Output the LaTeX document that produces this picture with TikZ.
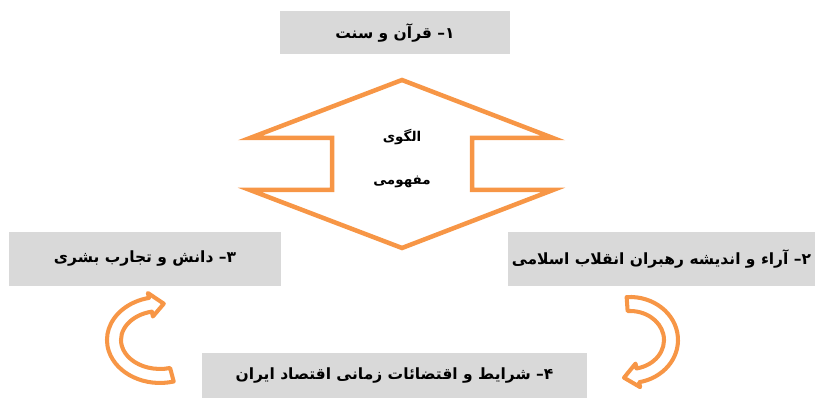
\documentclass[tikz,border=0pt]{standalone}
\usepackage{fontspec}
\newfontfamily\persianfont[Script=Arabic]{DejaVu Sans}
\TeXXeTstate=1
\newlength{\du}
\setlength{\du}{15\unitlength}
\definecolor{boxgray}{rgb}{0.850980, 0.850980, 0.850980}
\definecolor{dialinecolor}{rgb}{0.968627, 0.588235, 0.274510}
\tikzset{
  graybox/.style={fill=boxgray, draw=none, inner sep=0pt,
    font=\persianfont\bfseries\fontsize{15.5}{18}\selectfont},
  centerlabel/.style={inner sep=0pt,
    font=\persianfont\bfseries\fontsize{13.5}{16}\selectfont}
}
\begin{document}
\begin{tikzpicture}
\pgftransformxscale{1.000000}
\pgftransformyscale{-1.000000}
\useasboundingbox (0.000000\du,0.000000\du) rectangle (54.333333\du,26.533333\du);
% gray boxes
\node[graybox, minimum width=15.333333\du, minimum height=2.866667\du] (quran) at (26.333333\du,2.166667\du){\beginR ۱– قرآن و سنت\endR};
\node[graybox, minimum width=18.133333\du, minimum height=3.600000\du] (danesh) at (9.666667\du,17.266667\du){\beginR ۳– دانش و تجارب بشری\endR};
\node[graybox, minimum width=20.466667\du, minimum height=3.600000\du] (araa) at (44.100000\du,17.266667\du){\beginR ۲– آراء و اندیشه رهبران انقلاب اسلامی\endR};
\node[graybox, minimum width=25.666667\du, minimum height=3.000000\du] (sharayet) at (26.300000\du,25.033333\du){\beginR ۴– شرایط و اقتضائات زمانی اقتصاد ایران\endR};
% double arrow
\pgfsetlinewidth{0.300000\du}
\pgfsetdash{}{0pt}
\pgfsetmiterjoin
\pgfsetstrokecolor{dialinecolor}
\draw (26.800000\du,5.333333\du)--(36.866667\du,9.200000\du)--(31.466667\du,9.200000\du)--(31.466667\du,12.666667\du)--(36.866667\du,12.666667\du)--(26.800000\du,16.533333\du)--(16.666667\du,12.666667\du)--(22.133333\du,12.666667\du)--(22.133333\du,9.200000\du)--(16.666667\du,9.200000\du)--cycle;
\node[centerlabel] (olgoo) at (26.800000\du,9.133333\du){\beginR الگوی\endR};
\node[centerlabel] (mafhoomi) at (26.800000\du,12.133333\du){\beginR مفهومی\endR};
% curved arrows
\pgfsetlinewidth{0.270000\du}
\pgfsetroundjoin
\draw (11.580000\du,25.433333\du) arc[start angle=75, end angle=258, x radius=3.533333\du, y radius=2.866667\du]--(9.860000\du,19.533333\du)--(10.920000\du,20.246667\du)--(10.193333\du,21.100000\du)--(10.126667\du,20.773333\du) arc[start angle=258, end angle=75, x radius=2.600000\du, y radius=1.933333\du]--cycle;
\draw (41.776667\du,19.806667\du) arc[start angle=-94, end angle=79, x radius=3.200000\du, y radius=2.866667\du]--(42.674000\du,25.808000\du)--(41.600000\du,25.180000\du)--(42.368667\du,24.237333\du)--(42.432667\du,24.564667\du) arc[start angle=79, end angle=-94, x radius=2.266667\du, y radius=1.933333\du]--cycle;
\end{tikzpicture}
\end{document}
